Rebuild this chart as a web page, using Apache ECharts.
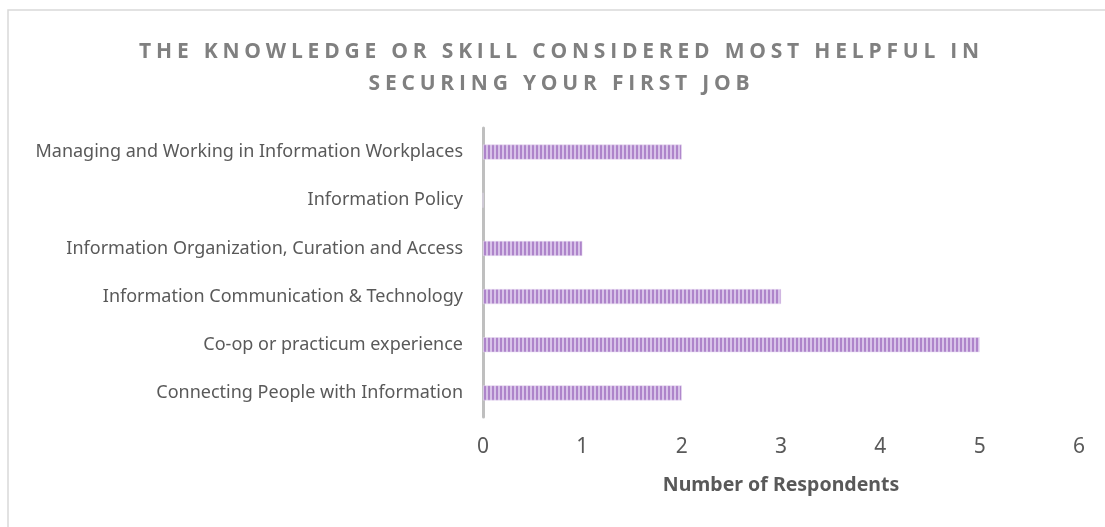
<!DOCTYPE html>
<html>
<head>
<meta charset="utf-8">
<script src="https://cdn.jsdelivr.net/npm/echarts@6/dist/echarts.min.js"></script>
<style>
html,body{margin:0;padding:0;background:#fff;}
#chart{width:1105px;height:527px;}
</style>
</head>
<body>
<div id="chart"></div>
<script>
// ---- data ----
const categories = [
  "Connecting People with Information",
  "Co-op or practicum experience",
  "Information Communication & Technology",
  "Information Organization, Curation and Access",
  "Information Policy",
  "Managing and Working in Information Workplaces"
];
const respondents = [2, 5, 3, 1, 0, 2];
const valueTicks = [0, 1, 2, 3, 4, 5, 6];
const titleText = "THE KNOWLEDGE OR SKILL CONSIDERED MOST HELPFUL IN\nSECURING YOUR FIRST JOB";
const axisTitle = "Number of Respondents";

// letter-spaced title (canvas letterSpacing applied only to the title font)
const TITLE_SIZE = 21;
const TITLE_SPACING = 4.8;
const TITLE_SHIFT = 9;
const origFill = CanvasRenderingContext2D.prototype.fillText;
CanvasRenderingContext2D.prototype.fillText = function (t, x, y, w) {
  if (this.font && this.font.indexOf('Open Sans') >= 0 && this.font.indexOf('bold') >= 0 && this.font.indexOf(TITLE_SIZE + 'px') >= 0) {
    const prev = this.letterSpacing;
    this.letterSpacing = TITLE_SPACING + 'px';
    const extra = TITLE_SPACING * String(t).length;
    let dx = TITLE_SHIFT;
    if (this.textAlign === 'left' || this.textAlign === 'start') dx -= extra / 2;
    else if (this.textAlign === 'right' || this.textAlign === 'end') dx += extra / 2;
    origFill.call(this, t, x + dx, y);
    this.letterSpacing = prev || '0px';
    return;
  }
  return w === undefined ? origFill.call(this, t, x, y) : origFill.call(this, t, x, y, w);
};

// striped bar pattern
const pat = document.createElement('canvas');
pat.width = 4; pat.height = 4;
const pc = pat.getContext('2d');
pc.fillStyle = '#d8c2e9'; pc.fillRect(0, 0, 4, 4);
pc.fillStyle = '#ae84ca'; pc.fillRect(0, 0, 2, 4);

const chart = echarts.init(document.getElementById('chart'), null, {renderer: 'canvas'});
chart.setOption({
  animation: false,
  backgroundColor: '#ffffff',
  graphic: [{
    type: 'rect', silent: true, z: -10,
    shape: {x: 8, y: 10, width: 1200, height: 700},
    style: {fill: 'none', stroke: '#d9d9d9', lineWidth: 1.5}
  }],
  title: {
    text: titleText,
    left: 'center',
    top: 31,
    textStyle: {
      fontFamily: '"Open Sans"', fontWeight: 'bold', fontSize: TITLE_SIZE,
      color: '#808080', lineHeight: 32
    }
  },
  grid: {left: 483, right: 26, top: 128, bottom: 110, containLabel: false},
  xAxis: {
    type: 'value', min: valueTicks[0], max: valueTicks[valueTicks.length - 1], interval: 1,
    splitLine: {show: false}, axisLine: {show: false}, axisTick: {show: false},
    axisLabel: {color: '#595959', fontSize: 21, fontFamily: 'Noto Sans', margin: 20},
    name: axisTitle, nameLocation: 'middle', nameGap: 58,
    nameTextStyle: {color: '#595959', fontSize: 19.5, fontWeight: 'bold', fontFamily: 'Noto Sans'}
  },
  yAxis: {
    type: 'category', data: categories,
    axisLine: {show: true, lineStyle: {color: '#bfbfbf', width: 3}},
    axisTick: {show: false},
    axisLabel: {color: '#595959', fontSize: 18, fontFamily: 'Noto Sans', margin: 20}
  },
  series: [{
    type: 'bar', data: respondents, barWidth: 15,
    itemStyle: {color: {image: pat, repeat: 'repeat'}, borderColor: '#e6d9f0', borderWidth: 0.5}
  }]
});
</script>
</body>
</html>
